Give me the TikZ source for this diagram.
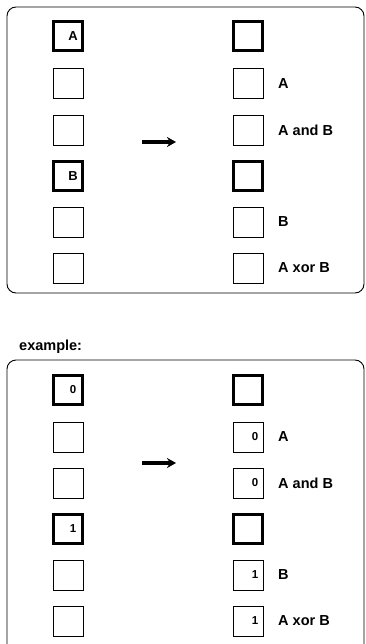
\documentclass[tikz,border=0pt]{standalone}
\usepackage{fontspec}
\setmainfont{Liberation Sans}
\usepackage{tikz}
\usetikzlibrary{arrows.meta, positioning}

\begin{document}
\begin{tikzpicture}[
    x=1pt, y=-1pt,
    font=\bfseries\fontsize{14.5}{16}\selectfont,
    >=Stealth,
    cell/.style={draw, line width=0.9pt, minimum width=30pt, minimum height=30pt, inner sep=0pt},
    thickcell/.style={cell, line width=3.8pt, minimum width=29pt, minimum height=29pt},
    frame/.style={draw, line width=0.9pt, rounded corners=9pt},
    lbl/.style={anchor=west, inner sep=0pt},
    val/.style={inner sep=0pt, font=\bfseries\fontsize{11.5}{13}\selectfont},
    move/.style={line width=3.6pt, -{Stealth[length=9pt, width=10pt]}}
]
    \useasboundingbox (0,0) rectangle (366,644);

    % Top: general layout
    \draw[frame] (7,7) rectangle (364,293);
    \node[thickcell] (a1) at (68,36) {};
    \node[cell] (a2) at (68,83) {};
    \node[cell] (a3) at (68,130) {};
    \node[thickcell] (a4) at (68,176) {};
    \node[cell] (a5) at (68,222) {};
    \node[cell] (a6) at (68,268) {};
    \node[val, font=\bfseries\fontsize{13}{15}\selectfont] at (73,36) {A};
    \node[val, font=\bfseries\fontsize{13}{15}\selectfont] at (73,176) {B};

    \node[thickcell] (b1) at (248,36) {};
    \node[cell] (b2) at (248,83) {};
    \node[cell] (b3) at (248,130) {};
    \node[thickcell] (b4) at (248,176) {};
    \node[cell] (b5) at (248,222) {};
    \node[cell] (b6) at (248,268) {};
    \node[lbl] (la) at (278,84) {A};
    \node[lbl] (lab) at (278,130) {A and B};
    \node[lbl] (lb) at (278,222) {B};
    \node[lbl] (lx) at (278,268) {A xor B};

    \coordinate (s1) at (142,142);
    \coordinate (e1) at (176,142);
    \draw[move] (s1) -- (e1);

    % Bottom: example
    \node[anchor=west, inner sep=0pt] (ex) at (19,347) {example:};
    \draw[frame] (7,660) -- (7,360) -- (364,360) -- (364,660);
    \node[thickcell] (c1) at (68,390) {};
    \node[cell] (c2) at (68,437) {};
    \node[cell] (c3) at (68,483) {};
    \node[thickcell] (c4) at (68,529) {};
    \node[cell] (c5) at (68,575) {};
    \node[cell] (c6) at (68,621) {};
    \node[val] at (73,390) {0};
    \node[val] at (73,529) {1};

    \node[thickcell] (d1) at (248,390) {};
    \node[cell] (d2) at (248,437) {};
    \node[cell] (d3) at (248,483) {};
    \node[thickcell] (d4) at (248,529) {};
    \node[cell] (d5) at (248,575) {};
    \node[cell] (d6) at (248,621) {};
    \node[val] at (255,437) {0};
    \node[val] at (255,483) {0};
    \node[val] at (255,575) {1};
    \node[val] at (255,621) {1};
    \node[lbl] (ma) at (278,437) {A};
    \node[lbl] (mab) at (278,483) {A and B};
    \node[lbl] (mb) at (278,575) {B};
    \node[lbl] (mx) at (278,621) {A xor B};

    \coordinate (s2) at (142,463);
    \coordinate (e2) at (176,463);
    \draw[move] (s2) -- (e2);
\end{tikzpicture}
\end{document}
